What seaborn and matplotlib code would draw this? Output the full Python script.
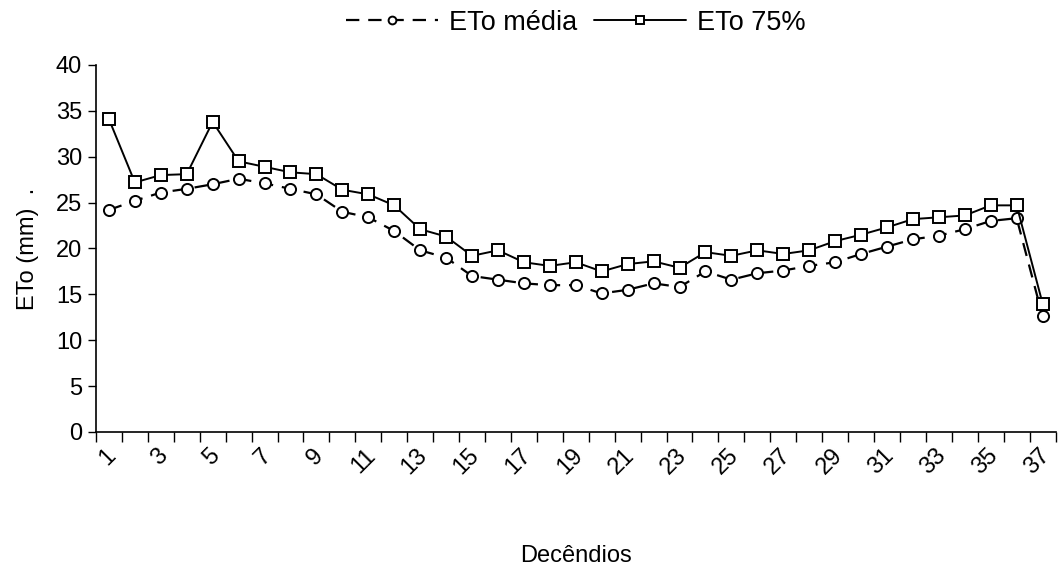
import numpy as np
import pandas as pd
import seaborn as sns
import matplotlib.pyplot as plt
import matplotlib.transforms as mtransforms

sns.set_style('white')
plt.rcParams['font.family'] = ['Liberation Sans', 'DejaVu Sans']
plt.rcParams['text.color'] = 'black'
plt.rcParams['axes.labelcolor'] = 'black'
plt.rcParams['xtick.color'] = 'black'
plt.rcParams['ytick.color'] = 'black'

decendios = list(range(1, 38))
eto_75 = [34.1, 27.2, 28.0, 28.1, 33.8, 29.5, 28.9, 28.3, 28.1, 26.4,
          25.9, 24.7, 22.1, 21.3, 19.2, 19.8, 18.5, 18.1, 18.5, 17.5,
          18.3, 18.6, 17.9, 19.6, 19.2, 19.8, 19.4, 19.8, 20.8, 21.5,
          22.3, 23.2, 23.4, 23.6, 24.7, 24.7, 14.0]
eto_media = [24.2, 25.2, 26.1, 26.5, 27.0, 27.6, 27.1, 26.5, 25.9, 24.0,
             23.4, 21.9, 19.8, 19.0, 17.0, 16.6, 16.2, 16.0, 16.0, 15.1,
             15.5, 16.2, 15.8, 17.5, 16.6, 17.3, 17.6, 18.1, 18.5, 19.4,
             20.2, 21.0, 21.4, 22.1, 23.0, 23.3, 12.6]

df = pd.DataFrame({'pos': np.arange(len(decendios)), 'media': eto_media, 'p75': eto_75})

fig = plt.figure(figsize=(10.58, 5.74), dpi=100)
ax = fig.add_axes([0.0907, 0.2474, 0.907, 0.6394])

sns.lineplot(data=df, x='pos', y='media', ax=ax, color='black', lw=1.6,
             linestyle=(0, (6, 4)), marker='o', markersize=8,
             markerfacecolor='white', markeredgecolor='black', markeredgewidth=1.4,
             label='ETo média')
sns.lineplot(data=df, x='pos', y='p75', ax=ax, color='black', lw=1.4,
             marker='s', markersize=8,
             markerfacecolor='white', markeredgecolor='black', markeredgewidth=1.4,
             label='ETo 75%')

n = len(decendios)
ax.set_xlim(-0.5, n - 0.5)
ax.set_ylim(0, 40)
ax.set_yticks(range(0, 41, 5))
ax.tick_params(axis='y', labelsize=17, length=6, width=1, direction='out', left=True, pad=4)

# category boundaries as ticks, labels on odd categories
ax.set_xticks(np.arange(-0.5, n, 1.0))
ax.set_xticklabels([])
ax.tick_params(axis='x', which='major', length=7, width=1, direction='out', bottom=True)
lab_pos = [i for i in range(n) if decendios[i] % 2 == 1]
ax.set_xticks(lab_pos, minor=True)
ax.set_xticklabels([str(decendios[i]) for i in lab_pos], minor=True,
                   rotation=45, ha='right', rotation_mode='anchor', fontsize=17)
ax.tick_params(axis='x', which='minor', length=0, pad=9)
shift = mtransforms.ScaledTranslation(-4 / 100, 0, fig.dpi_scale_trans)
for lbl in ax.get_xticklabels(minor=True):
    lbl.set_transform(lbl.get_transform() + shift)

sns.despine(ax=ax)
for s in ['left', 'bottom']:
    ax.spines[s].set_color('black')
    ax.spines[s].set_linewidth(1.2)

ax.set_xlabel('Decêndios', fontsize=17, labelpad=48)
ax.set_ylabel('ETo (mm)  .', fontsize=17, labelpad=12)

ax.legend(loc='center', bbox_to_anchor=(0.5, 1.115), ncol=2, frameon=False,
          fontsize=19.5, handlelength=3.4, columnspacing=0.6, handletextpad=0.4,
          markerscale=0.7)

fig.savefig('out.png', dpi=100)
